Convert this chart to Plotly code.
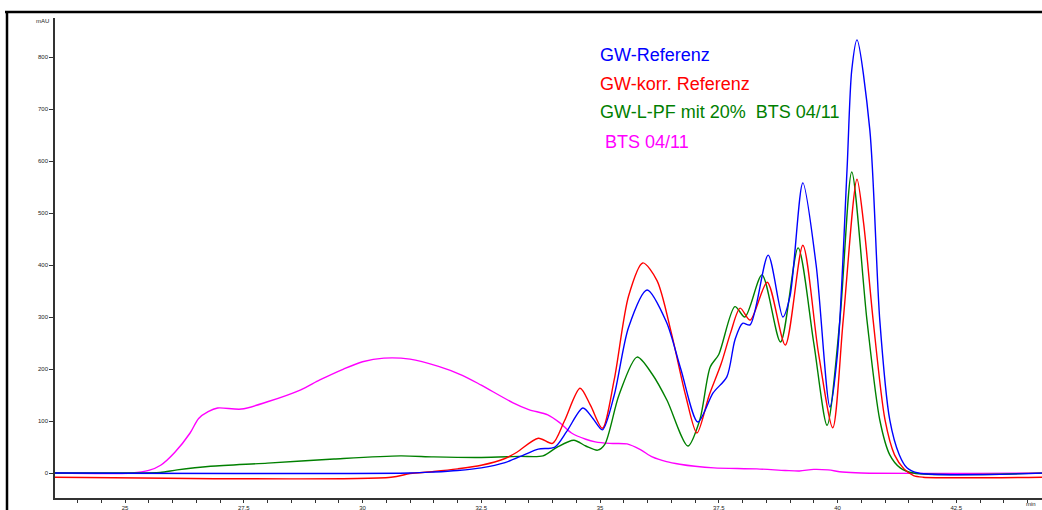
import plotly.graph_objects as go

# ---- data (retention time in min, absorbance in mAU) ----
blue_t = [23.5, 31.0, 31.5, 32.0, 32.5, 33.0, 33.4, 33.7, 34.05, 34.3, 34.64, 34.85, 35.05, 35.3, 35.6, 35.99,
          36.4, 36.7, 37.06, 37.38, 37.67, 37.84, 38.0, 38.16, 38.54, 38.85, 39.0, 39.27, 39.55, 39.84, 40.0,
          40.2, 40.3, 40.41, 40.68, 40.89, 41.1, 41.3, 41.46, 41.7, 44.4]
blue_v = [0, 0, 2, 5, 10, 20, 35, 46, 50, 80, 125, 105, 83, 150, 280, 352,
          290, 200, 98, 154, 185, 256, 288, 285, 419, 300, 340, 558, 400, 127, 230,
          583, 775, 833, 660, 294, 102, 35, 10, 0, 0]

red_t = [23.5, 30.6, 31.0, 31.5, 32.0, 32.5, 33.0, 33.25, 33.7, 34.0, 34.25, 34.58, 34.8, 35.05, 35.3, 35.6,
         35.9, 36.2, 36.5, 36.8, 37.04, 37.3, 37.55, 37.75, 37.95, 38.16, 38.52, 38.9, 39.27, 39.6, 39.9,
         40.12, 40.41, 40.55, 40.75, 41.0, 41.2, 41.4, 41.6, 41.8, 44.4]
red_v = [-8, -8, -1, 3, 8, 15, 28, 40, 67, 57, 100, 163, 130, 86, 180, 340,
         404, 370, 270, 150, 77, 150, 210, 270, 317, 294, 367, 246, 438, 230, 87,
         294, 565, 480, 294, 102, 35, 8, -5, -8, -8]

green_t = [23.5, 25.1, 25.74, 26.1, 26.8, 28.0, 29.4, 30.8, 31.5, 32.5, 33.3, 33.8, 34.1, 34.45, 34.7, 34.95,
           35.1, 35.4, 35.78, 36.1, 36.41, 36.85, 37.1, 37.32, 37.5, 37.84, 38.05, 38.41, 38.8, 39.17, 39.5,
           39.78, 40.05, 40.3, 40.62, 40.89, 41.1, 41.32, 41.6, 44.4]
green_v = [0, 0, 1, 6, 13, 19, 27, 33, 31, 30, 32, 33, 50, 63, 52, 44,
           55, 150, 223, 190, 140, 52, 102, 204, 228, 320, 300, 381, 252, 433, 250,
           92, 294, 579, 294, 102, 35, 10, 0, 0]

magenta_t = [23.5, 25.15, 25.5, 25.75, 26.05, 26.37, 26.55, 26.75, 26.95, 27.45, 28.0, 28.7, 29.1, 29.6, 30.0,
             30.45, 31.0, 31.6, 32.1, 32.5, 33.17, 33.5, 33.9, 34.15, 34.4, 34.7, 34.9, 35.2, 35.57, 35.85,
             36.1, 36.4, 36.68, 37.0, 37.4, 38.3, 38.9, 39.2, 39.5, 39.8, 40.1, 40.5, 44.4]
magenta_v = [0, 0, 5, 15, 40, 77, 105, 118, 125, 123, 137, 160, 179, 200, 214,
             221, 219, 205, 188, 169, 135, 122, 112, 97, 77, 65, 60, 57, 56, 45,
             31, 22, 17, 13, 10, 8, 5, 4, 7, 6, 2, 0, 0]

series_names = ["GW-Referenz", "GW-korr. Referenz", "GW-L-PF mit 20%  BTS 04/11", "BTS 04/11"]
series_colors = ["#0000FF", "#FF0000", "#008000", "#FF00FF"]

fig = go.Figure()
# draw order: magenta, green, red, blue (blue on top near peaks)
for t, v, name, col in [
    (magenta_t, magenta_v, series_names[3], series_colors[3]),
    (green_t, green_v, series_names[2], series_colors[2]),
    (red_t, red_v, series_names[1], series_colors[1]),
    (blue_t, blue_v, series_names[0], series_colors[0]),
]:
    fig.add_trace(go.Scatter(x=t, y=v, mode="lines", name=name,
                             line=dict(color=col, width=1.4, shape="spline", smoothing=0.8)))

# legend-like coloured labels
label_pos = [(34.96, 804), (34.96, 748), (34.96, 694), (35.06, 637)]
for (lx, ly), name, col in zip(label_pos, series_names, series_colors):
    fig.add_annotation(x=lx, y=ly, xref="x", yref="y", text=name, showarrow=False,
                       xanchor="left", yanchor="middle",
                       font=dict(family="Liberation Sans, Arial", size=18, color=col))

# outer frame (top and left)
W, H = 1042, 510
ml, mr, mt, mb = 55, 0, 18, 12
pw, ph = W - ml - mr, H - mt - mb
def px(x): return (x - ml) / pw
def py(y): return (H - mb - y) / ph

# unit labels
fig.add_annotation(x=px(51), y=py(21), xref="paper", yref="paper", text="mAU", showarrow=False,
                   xanchor="right", yanchor="middle", font=dict(family="Liberation Sans", size=6, color="#222"))
fig.add_annotation(x=px(1038), y=py(504), xref="paper", yref="paper", text="min", showarrow=False,
                   xanchor="right", yanchor="middle", font=dict(family="Liberation Sans", size=6, color="#222"))

fig.add_shape(type="line", xref="paper", yref="paper", x0=px(5), x1=px(1042), y0=py(12), y1=py(12),
              line=dict(color="black", width=2.5))
fig.add_shape(type="line", xref="paper", yref="paper", x0=px(7), x1=px(7), y0=py(11), y1=py(510),
              line=dict(color="black", width=2.5))

fig.update_layout(
    width=W, height=H,
    margin=dict(l=ml, r=mr, t=mt, b=mb),
    paper_bgcolor="white", plot_bgcolor="white",
    showlegend=False,
    font=dict(family="Liberation Sans, Arial", size=6, color="#222"),
)
fig.update_xaxes(range=[23.526, 23.526 + pw / 47.5], showgrid=False, zeroline=False,
                 showline=True, linecolor="#333", linewidth=1.5,
                 tick0=25, dtick=2.5, ticks="outside", ticklen=3, tickcolor="#333",
                 tickfont=dict(size=6, color="#222"),
                 minor=dict(dtick=0.5, tick0=25, ticks="outside", ticklen=3, tickcolor="#333"))
fig.update_yaxes(range=[-48, 875], showgrid=False, zeroline=False,
                 showline=True, linecolor="#333", linewidth=1.5,
                 tick0=0, dtick=100, ticks="outside", ticklen=4, tickcolor="#333",
                 tickfont=dict(size=6, color="#222"))

fig.write_html("out.html", config={"displayModeBar": False},
               post_script="document.body.style.margin='0';document.body.style.overflow='hidden';")
